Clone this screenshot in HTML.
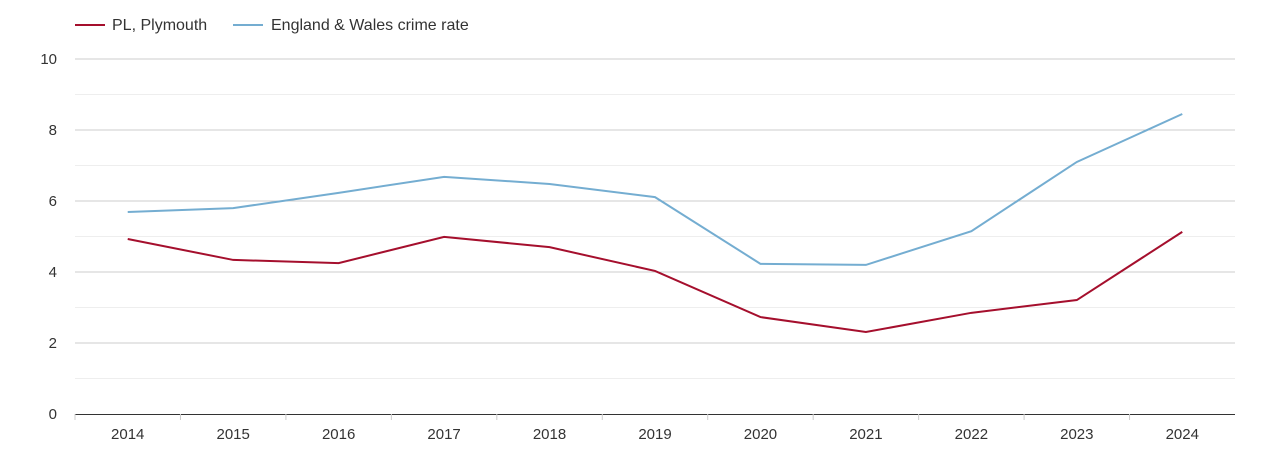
<!DOCTYPE html>
<html><head><meta charset="utf-8"><style>
body{margin:0;background:#fff;font-family:"Liberation Sans",sans-serif}
svg text{font-family:"Liberation Sans",sans-serif;fill:#333}
</style></head><body>
<svg id="chart" width="1270" height="450">
<g id="legend">
<g><line x1="75" y1="25" x2="105" y2="25" stroke="#a50f2d" stroke-width="2"/><text x="112" y="30" font-size="16">PL, Plymouth</text></g>
<g><line x1="233" y1="25" x2="263" y2="25" stroke="#74add1" stroke-width="2"/><text x="271" y="30" font-size="16">England &amp; Wales crime rate</text></g>
</g>
<g id="grid"></g>
<g id="axes"></g>
<g id="series"></g>
</svg>
<script>
const years=["2014","2015","2016","2017","2018","2019","2020","2021","2022","2023","2024"];
const plymouth=[4.93,4.34,4.25,4.99,4.70,4.03,2.73,2.31,2.85,3.21,5.13];
const englandWales=[5.69,5.80,6.23,6.68,6.48,6.11,4.23,4.20,5.15,7.10,8.45];
const yTicks=[0,2,4,6,8,10];
const NS="http://www.w3.org/2000/svg";
const x0=75,x1=1235,yTop=59,yBot=414,yMax=10;
const step=(x1-x0)/years.length;
const xs=i=>x0+step*(i+0.5);
const ys=v=>yBot-(v/yMax)*(yBot-yTop);
function mk(tag,attrs,parent){const e=document.createElementNS(NS,tag);for(const k in attrs)e.setAttribute(k,attrs[k]);parent.appendChild(e);return e;}
const grid=document.getElementById('grid'),axes=document.getElementById('axes'),series=document.getElementById('series');
for(let v=1;v<yMax;v+=2){const l=mk('line',{x1:x0,x2:x1,y1:ys(v),y2:ys(v),stroke:'#eeeeee'},grid);

}
yTicks.forEach(v=>{
 if(v>0){const l=mk('line',{x1:x0,x2:x1,y1:ys(v),y2:ys(v),stroke:'#cccccc'},grid);
 
 }
 const t=mk('text',{x:57,y:ys(v)+5,'text-anchor':'end','font-size':15},axes);t.textContent=v;
 
 
});
const ax=mk('line',{x1:x0,x2:x1,y1:yBot+0.5,y2:yBot+0.5,stroke:'#333'},axes);


years.forEach((y,i)=>{
 const tk=mk('line',{x1:x0+step*i,x2:x0+step*i,y1:yBot,y2:yBot+6,stroke:'#ccc'},axes);
 
 
 const t=mk('text',{x:xs(i),y:439,'text-anchor':'middle','font-size':15},axes);t.textContent=y;
 
 
});
function line(data,color,name){
 const p=mk('polyline',{points:data.map((v,i)=>xs(i)+','+ys(v)).join(' '),fill:'none',stroke:color,'stroke-width':2},series);
 
 
}
line(englandWales,'#74add1','england-wales-line');
line(plymouth,'#a50f2d','plymouth-line');
</script>
</body></html>
